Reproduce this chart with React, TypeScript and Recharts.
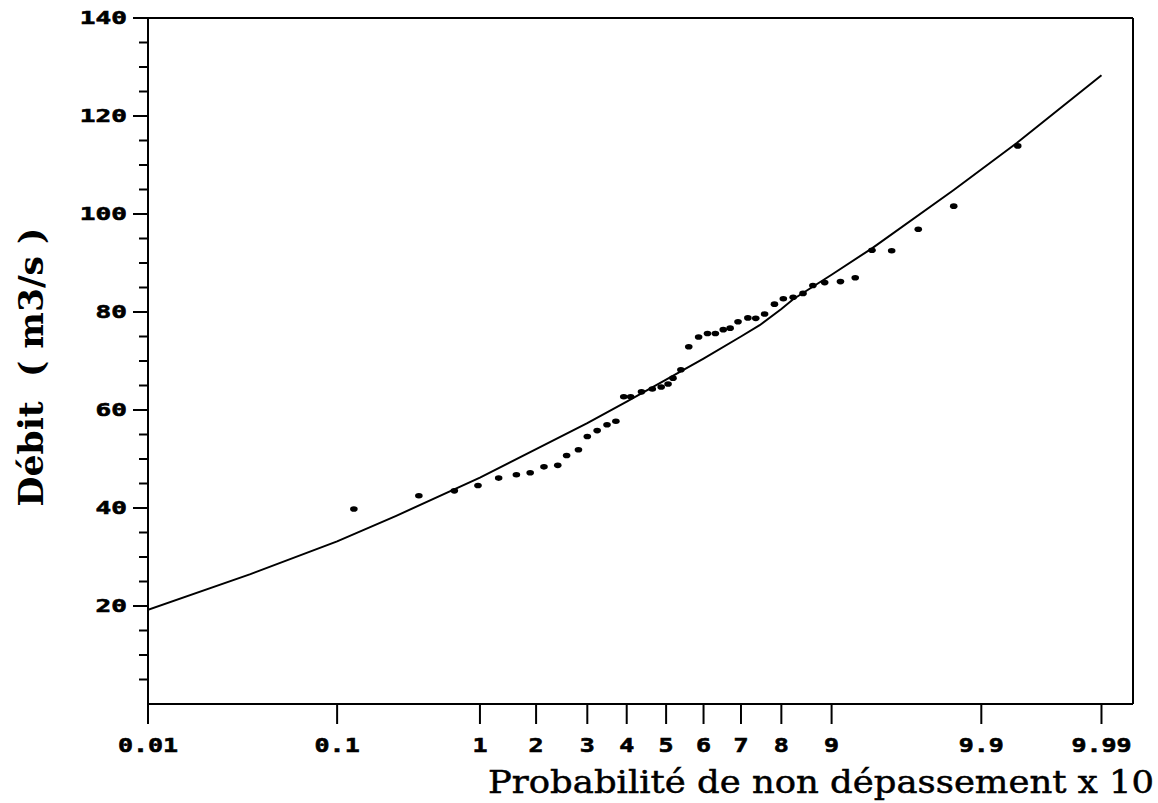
import React from 'react';
import { ScatterChart, Scatter, XAxis, YAxis, ReferenceLine } from 'recharts';

// Probability axis: labels (non-exceedance probability x 10) and their positions on the reduced-variate scale
const xTickLabels = ['0.01', '0.1', '1', '2', '3', '4', '5', '6', '7', '8', '9', '9.9', '9.99'];
const xTickPositions = [0, 19.2, 33.7, 39.4, 44.6, 48.6, 52.6, 56.4, 60.2, 64.3, 69.4, 84.6, 96.8];

// Discharge axis
const yTickValues = [0, 5, 10, 15, 20, 25, 30, 35, 40, 45, 50, 55, 60, 65, 70, 75, 80, 85, 90, 95, 100, 105, 110, 115, 120, 125, 130, 135, 140];

// Fitted distribution curve
const fitU = [0, 10.4, 19.2, 25.2, 33.7, 39.4, 44.6, 48.6, 52.6, 56.4, 60.2, 62.1, 64.3, 65.5, 69.4, 73.5, 81.8, 88.2, 96.8];
const fitQ = [19.2, 26.5, 33.2, 38.4, 46.2, 52.0, 57.3, 61.7, 66.2, 70.5, 75.0, 77.3, 80.6, 82.6, 87.6, 93.0, 104.9, 114.5, 128.3];

// Observed discharges at their plotting positions
const obsU = [20.9, 27.5, 31.1, 33.5, 35.6, 37.4, 38.8, 40.2, 41.6, 42.5, 43.7, 44.6, 45.6, 46.6, 47.5,
  48.3, 49.0, 50.1, 51.2, 52.1, 52.8, 53.3, 54.1, 54.9, 55.9, 56.8, 57.6, 58.4, 59.1, 59.9, 60.9, 61.7,
  62.6, 63.6, 64.5, 65.5, 66.5, 67.5, 68.7, 70.3, 71.8, 73.5, 75.5, 78.2, 81.8, 88.3];
const obsQ = [39.8, 42.5, 43.5, 44.6, 46.1, 46.8, 47.2, 48.4, 48.7, 50.7, 51.9, 54.6, 55.8, 57.0, 57.7,
  62.7, 62.7, 63.7, 64.3, 64.7, 65.3, 66.5, 68.2, 72.9, 74.9, 75.6, 75.6, 76.4, 76.7, 78.0, 78.8, 78.7,
  79.6, 81.6, 82.7, 83.0, 83.8, 85.4, 86.0, 86.2, 87.0, 92.6, 92.5, 96.9, 101.6, 113.9];

const fitData = fitU.map((u, i) => ({ u, v: fitQ[i] }));
const obsData = obsU.map((u, i) => ({ u, v: obsQ[i] }));

const XTick = (props: any) => {
  const { x, y, payload } = props;
  const idx = xTickPositions.indexOf(payload.value);
  const label = idx >= 0 ? xTickLabels[idx] : '';
  return (
    <g>
      <line x1={x} x2={x} y1={y} y2={y + 20} stroke="#000" strokeWidth={2} />
      <text
        transform={`translate(${x},${y + 48}) scale(1.25,1)`}
        textAnchor="middle"
        fontFamily="DejaVu Sans Mono"
        fontWeight="bold"
        fontSize={20}
        fill="#000"
        stroke="#000"
        strokeWidth={0.6}
      >
        {label}
      </text>
    </g>
  );
};

const YTick = (props: any) => {
  const { x, y, payload } = props;
  const v = payload.value;
  if (v === 0) return <g />;
  const major = v % 20 === 0;
  return (
    <g>
      <line x1={x - (major ? 15 : 9)} x2={x} y1={y} y2={y} stroke="#000" strokeWidth={2} />
      {major && (
        <text
          transform={`translate(${x - 21},${y + 6}) scale(1.45,1)`}
          textAnchor="end"
          fontFamily="DejaVu Sans Mono"
          fontWeight="bold"
          fontSize={18}
          fill="#000"
          stroke="#000"
          strokeWidth={0.6}
        >
          {v}
        </text>
      )}
    </g>
  );
};

const XTitle = (props: any) => {
  const vb = props.viewBox || { x: 148, y: 704, width: 985 };
  const left = vb.x + 340;
  const len = 666;
  return (
    <text
      x={left}
      y={vb.y + 89}
      textLength={len}
      lengthAdjust="spacingAndGlyphs"
      fontFamily="DejaVu Serif"
      fontSize={32}
      fill="#000"
      stroke="#000"
      strokeWidth={0.5}
    >
      Probabilité de non dépassement x 10
    </text>
  );
};

const YTitle = () => {
  const cx = 43;
  const cy = 367;
  return (
    <text
      x={cx}
      y={cy}
      transform={`rotate(-90, ${cx}, ${cy})`}
      textAnchor="middle"
      textLength={279}
      lengthAdjust="spacingAndGlyphs"
      fontFamily="DejaVu Serif"
      fontWeight="bold"
      fontSize={34}
      fill="#000"
    >
      {'Débit\u00a0\u00a0(\u00a0m3/s\u00a0)'}
    </text>
  );
};

const Dot = (props: any) => {
  const { cx, cy } = props;
  return <ellipse cx={cx} cy={cy} rx={3.8} ry={2.8} fill="#000" />;
};

const NoDot = () => <g />;

export default function App() {
  return (
    <div style={{ position: 'absolute', left: 0, top: 0, width: 1158, height: 803, background: '#fff' }}>
      <ScatterChart width={1158} height={803} margin={{ top: 18, right: 25, bottom: 0, left: 0 }}>
        <XAxis
          type="number"
          dataKey="u"
          domain={[0, 100]}
          ticks={xTickPositions}
          interval={0}
          allowDataOverflow
          height={99}
          tickSize={0}
          tickMargin={0}
          tickLine={false}
          axisLine={{ stroke: '#000', strokeWidth: 2 }}
          tick={<XTick />}
          label={{ content: <XTitle /> }}
        />
        <YAxis
          type="number"
          dataKey="v"
          domain={[0, 140]}
          ticks={yTickValues}
          interval={0}
          allowDataOverflow
          width={148}
          tickSize={0}
          tickMargin={0}
          tickLine={false}
          axisLine={{ stroke: '#000', strokeWidth: 2 }}
          tick={<YTick />}
          label={{ content: <YTitle /> }}
        />
        <ReferenceLine y={140} stroke="#000" strokeWidth={2} />
        <ReferenceLine x={100} stroke="#000" strokeWidth={2} />
        <Scatter
          data={fitData}
          line={{ stroke: '#000', strokeWidth: 2 }}
          shape={<NoDot />}
          isAnimationActive={false}
        />
        <Scatter data={obsData} shape={<Dot />} isAnimationActive={false} />
      </ScatterChart>
    </div>
  );
}
